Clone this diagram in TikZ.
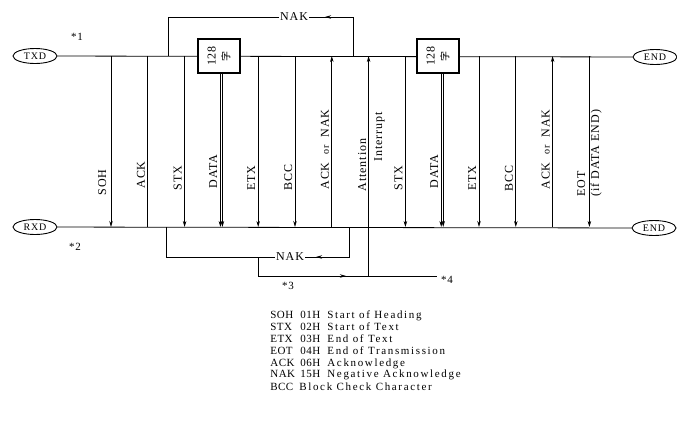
\documentclass[tikz,border=0pt]{standalone}
\usepackage{fontspec}
\setmainfont{Liberation Serif}
\newfontfamily\lab{Liberation Serif}[LetterSpace=8]
\newfontfamily\legA{Liberation Serif}[LetterSpace=4]
\newfontfamily\legB{Liberation Serif}[LetterSpace=15]
\newfontfamily\cjk{Noto Sans CJK JP}
\usetikzlibrary{arrows.meta,shapes.geometric,calc}
\begin{document}
\begin{tikzpicture}[x=1pt,y=-1pt,line width=0.8pt,
  sig/.style={ellipse,draw,line width=0.9pt,minimum width=44pt,minimum height=15pt,inner sep=0pt,font=\lab\fontsize{10}{10}\selectfont},
  blk/.style={draw,line width=1.3pt,fill=white,minimum width=34pt,minimum height=42pt,inner sep=0pt,rotate=90,align=center,font=\lab\fontsize{12}{14}\selectfont},
  lbl/.style={rotate=90,anchor=base west,inner sep=0pt,font=\lab\fontsize{12}{12}\selectfont},
  arr/.style={-{Stealth[length=6pt,width=3.5pt]}},
  nak/.style={inner sep=1pt,font=\lab\fontsize{12}{12}\selectfont},
  star/.style={font=\lab\fontsize{11}{11}\selectfont},
  lega/.style={anchor=base west,inner sep=0pt,font=\legA\fontsize{11}{11}\selectfont},
  legb/.style={anchor=base west,inner sep=0pt,font=\legB\fontsize{11}{11}\selectfont}]
\useasboundingbox (0,0) rectangle (677,426);

% signal ends
\node[sig] (txd) at (35,56) {TXD};
\node[sig] (rxd) at (35,227) {RXD};
\node[sig] (tend) at (655,57) {END};
\node[sig] (rend) at (654,228) {END};
\draw (txd) -- (tend);
\draw (rxd) -- (rend);

\foreach \i in {0,...,13}{
  \coordinate (t\i) at ({111+36.8*\i},56);
  \coordinate (r\i) at ({111+36.8*\i},227);
}

% top NAK loop
\coordinate (n1a) at (168,56);
\coordinate (n1b) at (168,17);
\coordinate (n1c) at (353,17);
\coordinate (n1d) at (353,56);
\coordinate (n1tip) at (325,17);
\node[nak] (nak1) at (294,17) {NAK};
\draw (n1a) -- (n1b) -- (nak1.west);
\draw (n1d) -- (n1c) -- (nak1.east);
\draw[arr] (n1c) -- (n1tip);

% blocks
\node[blk] (b1) at (219,56) {128\\{\cjk\fontsize{10}{10}\selectfont 字}};
\node[blk] (b2) at (438,56) {128\\{\cjk\fontsize{10}{10}\selectfont 字}};

% vertical signals
\draw[arr] (t0) -- (r0);
\draw (r1) -- (t1);
\draw[arr] (t2) -- (r2);
\draw[arr] ($(r3 |- b1.west)+(-1,0)$) -- ($(r3)+(-1,0)$);
\draw[arr] ($(r3 |- b1.west)+(1,0)$) -- ($(r3)+(1,0)$);
\draw[arr] (t4) -- (r4);
\draw[arr] (t5) -- (r5);
\draw[arr] (r6) -- (t6);
\coordinate (att) at ($(r7)+(0,49)$);
\draw[arr] (att) -- (t7);
\draw[arr] (t8) -- (r8);
\draw[arr] ($(r9 |- b2.west)+(-1,0)$) -- ($(r9)+(-1,0)$);
\draw[arr] ($(r9 |- b2.west)+(1,0)$) -- ($(r9)+(1,0)$);
\draw[arr] (t10) -- (r10);
\draw[arr] (t11) -- (r11);
\draw[arr] (r12) -- (t12);
\draw[arr] (t13) -- (r13);

% labels
\node[lbl] (lsoh) at (106,196) {SOH};
\node[lbl] (lack) at (144.8,189) {ACK};
\node[lbl] (lstx) at (181.6,191) {STX};
\node[lbl] (ldata) at (217,189) {DATA};
\node[lbl] (letx) at (255.2,191) {ETX};
\node[lbl] (lbcc) at (292,191) {BCC};
\node[lbl] (lan) at (328.8,190) {ACK\ \ {\fontsize{10}{10}\selectfont or}\ \ NAK};
\node[lbl] (latt) at (366,192) {Attention};
\node[lbl] (lint) at (382,162) {Interrupt};
\node[lbl] (lstx2) at (402.4,191) {STX};
\node[lbl] (ldata2) at (438,189) {DATA};
\node[lbl] (letx2) at (476,191) {ETX};
\node[lbl] (lbcc2) at (512.8,192) {BCC};
\node[lbl] (lan2) at (549.6,190) {ACK\ \ {\fontsize{10}{10}\selectfont or}\ \ NAK};
\node[lbl] (leot) at (585,197) {EOT};
\node[lbl] (lif) at (599,197) {(if DATA END)};

% bottom loops
\coordinate (l1a) at (166,227);
\coordinate (l1b) at (166,257);
\coordinate (l1c) at (349,257);
\coordinate (l1d) at (349,227);
\coordinate (l1tip) at (316,257);
\node[nak] (nak2) at (290,257) {NAK};
\draw (l1a) -- (l1b) -- (nak2.west);
\draw (l1d) -- (l1c) -- (nak2.east);
\draw[arr] (l1c) -- (l1tip);
\coordinate (l2a) at (258,257);
\coordinate (l2b) at (258,276);
\coordinate (l2tip) at (346,276);
\coordinate (l2end) at (437,276);
\draw (l2a) -- (l2b) -- (l2end);
\draw[arr] (l2b) -- (l2tip);

% stars
\node[star] (s1) at (77,37) {*1};
\node[star] (s2) at (75,247) {*2};
\node[star] (s3) at (288,286) {*3};
\node[star] (s4) at (447,280) {*4};

% legend
\foreach \y/\a/\b/\c in {318/SOH/01H/Start of Heading,330/STX/02H/Start of Text,342/ETX/03H/End of Text,354/EOT/04H/End of Transmission,366/ACK/06H/Acknowledge,377/NAK/15H/Negative Acknowledge}{
  \node[lega] (la\a) at (270,\y) {\a};
  \node[lega] (lb\a) at (300,\y) {\b};
  \node[legb] (lc\a) at (327,\y) {\c};
}
\node[lega] (laBCC) at (270,390) {BCC};
\node[legb] (lcBCC) at (299,390) {Block Check Character};
\end{tikzpicture}
\end{document}
